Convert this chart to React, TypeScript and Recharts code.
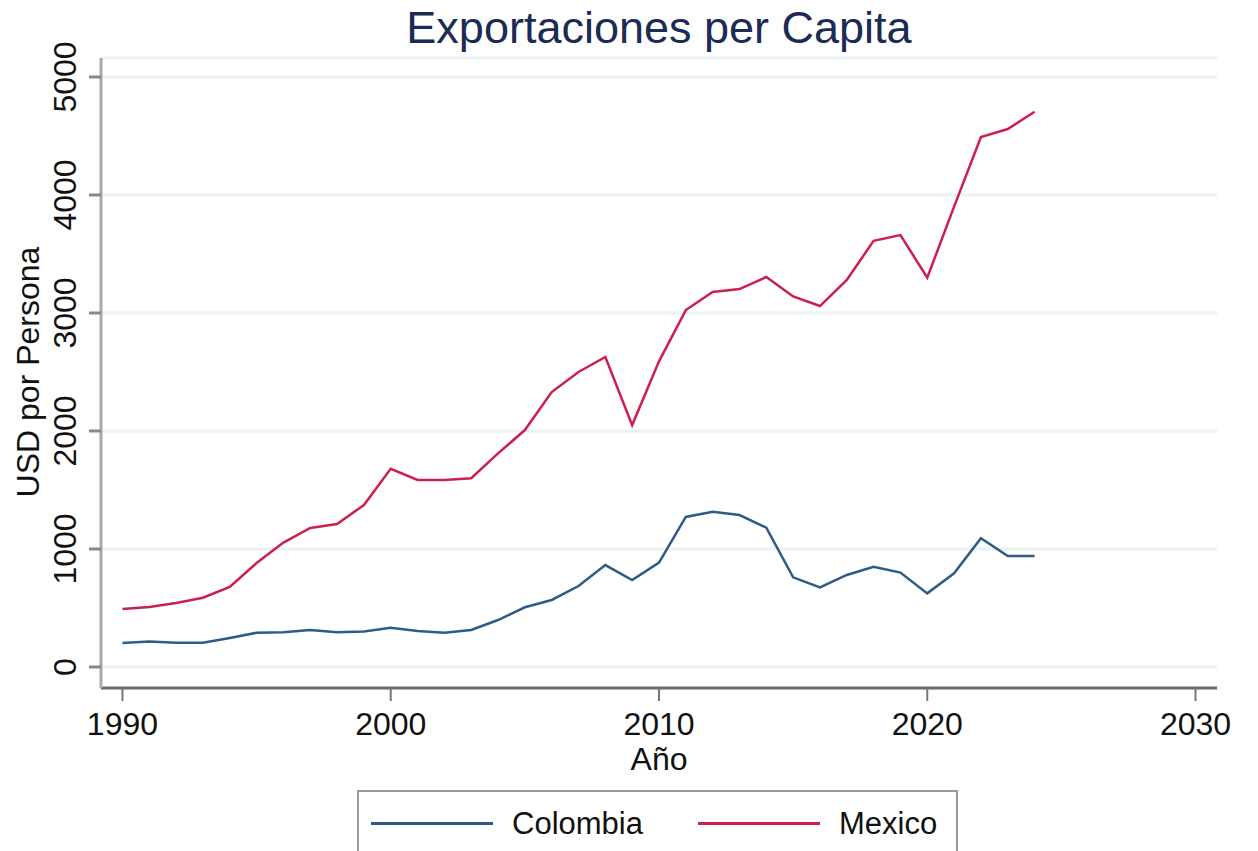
import { CartesianGrid, Line, LineChart, XAxis, YAxis } from "recharts";

const years = [
  1990, 1991, 1992, 1993, 1994, 1995, 1996, 1997, 1998, 1999, 2000, 2001,
  2002, 2003, 2004, 2005, 2006, 2007, 2008, 2009, 2010, 2011, 2012, 2013,
  2014, 2015, 2016, 2017, 2018, 2019, 2020, 2021, 2022, 2023, 2024,
];

const colombia = [
  203, 215, 205, 205, 245, 290, 294, 314, 294, 300, 333, 305, 290, 314, 398,
  506, 568, 686, 864, 737, 885, 1272, 1316, 1288, 1181, 760, 675, 780, 850,
  800, 624, 794, 1091, 940, 940,
];

const mexico = [
  491, 508, 542, 587, 678, 881, 1054, 1178, 1212, 1373, 1680, 1585, 1585, 1600,
  1810, 2008, 2330, 2500, 2627, 2050, 2590, 3025, 3178, 3203, 3305, 3140, 3059,
  3280, 3612, 3660, 3300, 3901, 4491, 4559, 4706,
];

const xTicks = [1990, 2000, 2010, 2020, 2030];
const yTicks = [0, 1000, 2000, 3000, 4000, 5000];

const series = [
  { key: "colombia", name: "Colombia", color: "#2e5c87" },
  { key: "mexico", name: "Mexico", color: "#cd1f4c" },
];

const data = years.map((year, i) => ({
  year,
  colombia: colombia[i],
  mexico: mexico[i],
}));

const font = "'Liberation Sans', Arial, Helvetica, sans-serif";

function XTick({ x, y, payload }: any) {
  return (
    <text x={x} y={y} dy={32} textAnchor="middle" fontSize={32} fill="#111" fontFamily={font}>
      {payload.value}
    </text>
  );
}

function YTick({ x, y, payload }: any) {
  const bx = x - 11;
  return (
    <text
      x={bx}
      y={y}
      transform={`rotate(-90, ${bx}, ${y})`}
      textAnchor="middle"
      fontSize={32}
      fill="#111"
      fontFamily={font}
    >
      {payload.value}
    </text>
  );
}

function YTitle() {
  return (
    <text
      x={39}
      y={372}
      transform="rotate(-90, 39, 372)"
      textAnchor="middle"
      fontSize={32}
      fill="#111"
      fontFamily={font}
    >
      USD por Persona
    </text>
  );
}

function XTitle() {
  return (
    <text x={659} y={770} textAnchor="middle" fontSize={32} fill="#111" fontFamily={font}>
      Año
    </text>
  );
}

export default function App() {
  return (
    <div
      style={{
        position: "absolute",
        left: 0,
        top: 0,
        width: 1258,
        height: 851,
        background: "#fff",
        overflow: "hidden",
        fontFamily: font,
      }}
    >
      <div
        style={{
          position: "absolute",
          left: 0,
          top: 6,
          width: 1318,
          textAlign: "center",
          fontSize: 45,
          lineHeight: "44px",
          color: "#1c2b54",
        }}
      >
        Exportaciones per Capita
      </div>

      <LineChart
        width={1258}
        height={851}
        data={data}
        margin={{ top: 58, right: 41, bottom: 0, left: 0 }}
      >
        <CartesianGrid vertical={false} stroke="#ebf2f2" strokeWidth={3} />
        <XAxis
          type="number"
          dataKey="year"
          domain={[1989.2, 2030.8]}
          ticks={xTicks}
          allowDataOverflow
          height={163}
          tickSize={13}
          axisLine={{ stroke: "#6b6b6b", strokeWidth: 3 }}
          tickLine={{ stroke: "#777", strokeWidth: 2 }}
          tick={<XTick />}
          label={<XTitle />}
        />
        <YAxis
          type="number"
          domain={[-178, 5161]}
          ticks={yTicks}
          allowDataOverflow
          width={101}
          tickSize={12}
          axisLine={{ stroke: "#a8a8a8", strokeWidth: 3 }}
          tickLine={{ stroke: "#888", strokeWidth: 3 }}
          tick={<YTick />}
          label={<YTitle />}
        />
        {series.map((s) => (
          <Line
            key={s.key}
            type="linear"
            dataKey={s.key}
            name={s.name}
            stroke={s.color}
            strokeWidth={2.5}
            dot={false}
            isAnimationActive={false}
          />
        ))}
      </LineChart>

      <div
        style={{
          position: "absolute",
          left: 357,
          top: 790,
          width: 601,
          height: 90,
          boxSizing: "border-box",
          border: "2px solid #9a9a9a",
          paddingTop: 16,
          paddingLeft: 12,
          display: "flex",
        }}
      >
        {series.map((s) => (
          <div
            key={s.key}
            style={{
              width: 327,
              flexShrink: 0,
              display: "flex",
              alignItems: "center",
              height: 31,
            }}
          >
            <div
              style={{
                width: 122,
                height: 3,
                flexShrink: 0,
                background: s.color,
                marginRight: 19,
              }}
            />
            <span style={{ fontSize: 31, lineHeight: "31px", color: "#111", whiteSpace: "nowrap" }}>
              {s.name}
            </span>
          </div>
        ))}
      </div>
    </div>
  );
}
